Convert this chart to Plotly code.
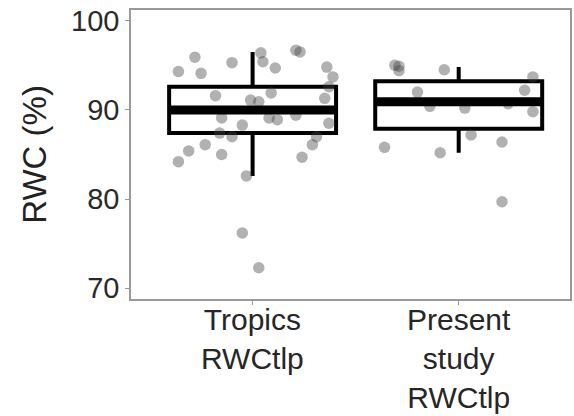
import plotly.graph_objects as go

categories = ["Tropics<br>RWCtlp", "Present<br>study<br>RWCtlp"]

# box statistics per group: lower whisker, q1, median, q3, upper whisker
lower_whisker = [82.6, 85.2]
q1_vals = [87.4, 87.9]
median_vals = [90.0, 90.9]
q3_vals = [92.6, 93.2]
upper_whisker = [96.5, 94.8]

# jittered observations: group index, horizontal jitter, RWC value
trop_jitter = [-0.28, -0.36, -0.25, -0.10, 0.21, 0.23, 0.04, 0.05, 0.11, 0.36, 0.39,
               -0.18, -0.01, 0.03, 0.09, 0.35, 0.37, -0.15, -0.16, -0.10, -0.05,
               0.08, 0.12, 0.21, 0.37, 0.31, 0.29, -0.31, -0.23, -0.36, -0.15,
               0.24, -0.03, -0.05, 0.03]
trop_values = [95.9, 94.3, 94.1, 95.3, 96.7, 96.5, 96.4, 95.4, 94.7, 94.8, 93.7,
               91.6, 91.1, 90.9, 91.9, 91.3, 92.6, 89.1, 87.4, 87.0, 88.3,
               89.1, 88.9, 89.4, 88.5, 87.0, 86.1, 85.4, 86.1, 84.2, 85.0,
               84.7, 82.6, 76.2, 72.3]
pres_jitter = [-0.31, -0.29, -0.29, -0.07, 0.36, -0.20, 0.32, -0.14, 0.03, 0.24,
               0.36, 0.06, 0.21, -0.36, -0.09, 0.21]
pres_values = [95.0, 94.9, 94.4, 94.5, 93.7, 92.0, 92.2, 90.4, 90.2, 90.7,
               89.8, 87.2, 86.4, 85.8, 85.2, 79.7]

box_width = 0.81

fig = go.Figure()

pts_x = [0 + j for j in trop_jitter] + [1 + j for j in pres_jitter]
pts_y = trop_values + pres_values
fig.add_trace(go.Scatter(
    x=pts_x, y=pts_y, mode="markers",
    marker=dict(size=11.5, color="rgba(70,70,70,0.42)", line=dict(width=0)),
    hoverinfo="y", showlegend=False))

for i in range(len(categories)):
    fig.add_trace(go.Box(
        x=[i], q1=[q1_vals[i]], median=[median_vals[i]], q3=[q3_vals[i]],
        lowerfence=[lower_whisker[i]], upperfence=[upper_whisker[i]],
        width=box_width, whiskerwidth=0, fillcolor="rgba(0,0,0,0)",
        line=dict(color="black", width=4), boxpoints=False,
        showlegend=False, hoverinfo="skip"))
    fig.add_trace(go.Scatter(
        x=[i - box_width / 2, i + box_width / 2],
        y=[median_vals[i], median_vals[i]], mode="lines",
        line=dict(color="black", width=9), showlegend=False, hoverinfo="skip"))

for i, label in enumerate(categories):
    fig.add_annotation(
        x=i, y=0, xref="x", yref="paper", text=label, showarrow=False,
        xanchor="center", yanchor="top", yshift=-2,
        font=dict(size=30, color="#262626"))

fig.update_layout(
    width=574, height=416,
    margin=dict(l=131, r=2, t=10, b=117),
    paper_bgcolor="white", plot_bgcolor="white",
    font=dict(family="Liberation Sans, Arial, sans-serif", color="#4d4d4d"),
)
fig.update_xaxes(
    range=[-0.59, 1.54], tickvals=[0, 1], showticklabels=False,
    ticks="outside", ticklen=4,
    tickcolor="#999999", showgrid=False, zeroline=False,
    showline=True, linecolor="#999999", linewidth=1.5, mirror=True)
fig.update_yaxes(
    range=[68.8, 101.2], tickvals=[70, 80, 90, 100],
    tickfont=dict(size=29, color="#2a2a2a"), ticks="outside", ticklen=4,
    tickcolor="#999999", showgrid=False, zeroline=False,
    showline=True, linecolor="#999999", linewidth=1.5, mirror=True,
    title=dict(text="RWC (%)", font=dict(size=33, color="#222222"), standoff=15))

fig.write_html("out.html")
